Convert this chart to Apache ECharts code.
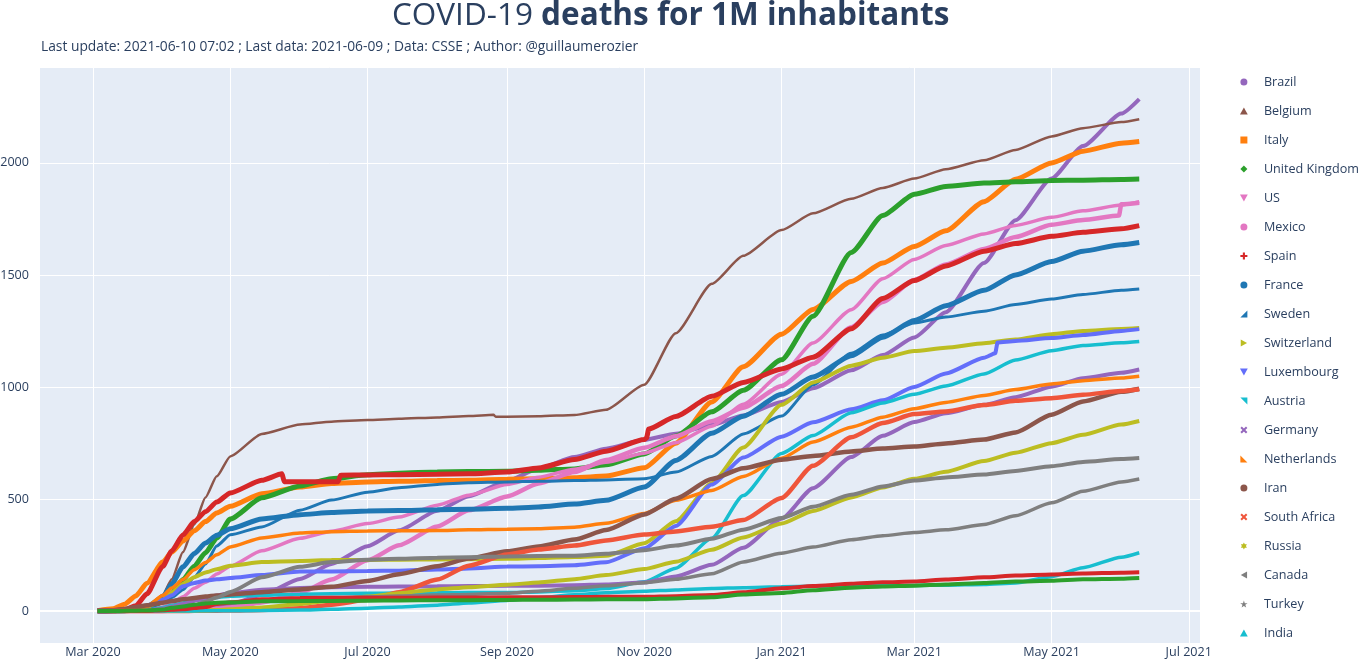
<!DOCTYPE html>
<html><head><meta charset="utf-8">
<script src="https://cdn.jsdelivr.net/npm/echarts@6/dist/echarts.min.js"></script>
<style>html,body{margin:0;padding:0;background:#fff}#chart{width:1368px;height:667px}</style>
</head><body><div id="chart"></div>
<script>
// ---------------- DATA (deaths per 1M inhabitants) ----------------
const dates = ['2020-03-03','2020-03-10','2020-03-15','2020-03-20','2020-03-25','2020-04-01','2020-04-05','2020-04-10','2020-04-15','2020-04-20','2020-04-25','2020-05-01','2020-05-15','2020-06-01','2020-06-15','2020-07-01','2020-07-15','2020-08-01','2020-08-15','2020-09-01','2020-09-15','2020-10-01','2020-10-15','2020-11-01','2020-11-15','2020-12-01','2020-12-15','2021-01-01','2021-01-15','2021-02-01','2021-02-15','2021-03-01','2021-03-15','2021-04-01','2021-04-15','2021-05-01','2021-05-15','2021-06-01','2021-06-09'];

const brazil      = [0,0,0,0,0.3,1.2,2.3,5.4,8.3,12,19,31,71,143,210,289,360,447,512,580,635,687,724,764,791,830,873,933,994,1074,1142,1221,1333,1553,1744,1930,2075,2220,2285];
const belgium     = [0,0,0.3,3,15,72,142,263,386,507,601,690,790,832,845,852,858,864,870,867,869,875,898,1010,1240,1460,1585,1700,1775,1840,1888,1930,1972,2012,2058,2118,2155,2182,2195];
const italy       = [1.3,10,30,67,124,218,263,312,358,399,437,467,523,553,569,576,579,582,583,588,590,595,602,639,749,933,1090,1235,1346,1471,1553,1627,1697,1827,1927,2000,2052,2088,2095];
const uk          = [0,0.1,0.5,2.7,7,40,80,140,200,260,325,410,505,558,590,608,615,620,622,624,628,634,653,701,781,889,985,1121,1315,1600,1765,1860,1895,1910,1916,1921,1923,1926,1928];
const us          = [0,0.1,0.2,0.8,3.2,18,33,63,101,128,165,200,269,324,356,390,419,472,517,564,597,633,664,704,751,825,923,1057,1196,1345,1483,1569,1631,1683,1721,1757,1786,1812,1827];
const mexico      = [0,0,0,0,0,0.2,0.6,1.5,3.2,5.4,9.7,15.6,38,81,140,226,293,377,449,511,569,620,674,729,780,847,907,1004,1103,1266,1379,1477,1547,1616,1669,1724,1745,1815,1822];
const spain       = [0,0.6,6,23,77,199,268,339,399,443,486,527,583,577,577,607,608,610,612,620,638,676,713,765,868,958,1020,1080,1133,1260,1395,1475,1540,1606,1640,1672,1690,1706,1720];
const france      = [0,0.5,1.4,7,20,60,121,197,256,303,338,367,411,430,439,446,448,452,454,458,464,477,494,553,672,793,869,967,1044,1139,1222,1296,1362,1431,1500,1560,1606,1635,1645];
const sweden      = [0,0,0.7,1.6,6,40,60,95,150,210,290,340,375,450,495,530,550,565,572,576,579,582,585,590,620,690,790,870,1010,1150,1232,1285,1312,1338,1368,1392,1413,1431,1437];
const switzerland = [0,0.3,1.6,6.5,18,50,83,120,151,172,186,202,218,223,227,228,229,230,231,233,236,241,246,302,400,570,730,920,1020,1095,1130,1160,1175,1195,1212,1235,1250,1259,1263];
const luxembourg  = [0,0,0,13,24,50,70,110,125,136,141,147,160,176,176,178,180,185,190,198,200,204,217,280,379,564,685,778,842,900,940,1000,1060,1130,1205,1218,1232,1250,1258];
const austria     = [0,0,0.1,0.7,3,16,25,36,46,53,60,66,70,75,77,79,80,81,82,82,85,90,100,130,191,324,515,703,783,885,928,967,1004,1058,1120,1162,1185,1197,1203];
const germany     = [0,0,0.1,0.8,2.5,11,19,31,46,58,69,80,95,103,106,108,109,110,111,112,113,115,118,127,154,206,282,412,548,687,782,843,882,920,954,1001,1039,1063,1078];
const netherlands = [0,0.2,1.2,6,21,69,103,140,184,216,251,286,326,348,354,357,358,359,362,365,367,374,391,435,494,538,600,682,754,820,865,903,931,962,988,1013,1028,1040,1048];
const iran        = [0.9,3.5,8.8,17.5,25,37,44,52,58,64,69,74,84,96,108,134,164,200,234,266,288,319,361,431,501,589,637,675,692,712,725,734,748,765,797,876,935,978,992];
const southAfrica = [0,0,0,0,0,0.1,0.1,0.2,0.4,0.9,1.3,1.8,4.4,12,28,50,84,140,202,252,274,292,315,341,355,376,406,504,648,775,839,879,890,919,938,950,965,982,990];
const russia      = [0,0,0,0,0,0.1,0.3,0.5,1.1,2.1,4,7.4,16,31,47,64,79,96,106,117,127,142,160,187,220,273,328,390,446,507,551,590,621,669,706,749,786,832,848];
const canada      = [0,0,0,0.3,0.7,2.7,6.4,13,25,41,60,85,150,197,218,229,233,238,240,243,245,247,255,271,292,322,363,415,465,519,556,582,596,609,625,646,665,678,683];
const turkey      = [0,0,0,0.1,0.9,3.4,7.3,13,18.6,26,33,40,49,56,60,63,67,71,74,79,88,101,112,126,141,166,219,258,285,318,336,350,362,386,425,483,534,576,589];
const india       = [0,0,0,0,0,0,0.1,0.2,0.3,0.5,0.7,0.9,2,3.9,7.2,12.6,17.5,26,36,47,59,72,81,88,94,100,104,108,110,112,113,114,115,118,125,153,193,240,260];
const finland     = [0,0,0,0,0.2,3.4,5,7.6,13,18,31,38,52,58,59,59,59,60,60,61,61,62,63,63,66,71,83,101,111,121,128,131,140,150,158,163,167,171,173];
const norway      = [0,0,0.6,1.3,2.4,6,14,20,28,33,37,38,43,44,45,46,47,48,48,49,50,51,52,52,56,61,73,80,93,104,109,113,118,125,131,135,141,144,147];

// extra points where a series jumps (data revisions)
const belgiumExtra    = [['2020-08-26',876],['2020-08-27',867]];
const spainExtra      = [['2020-05-24',612],['2020-05-25',577],['2020-06-18',577],['2020-06-19',606],['2020-11-02',772],['2020-11-03',812]];
const mexicoExtra     = [['2021-05-31',1765]];
const luxembourgExtra = [['2021-04-06',1150],['2021-04-07',1198]];

const monthNames = ['Jan','Feb','Mar','Apr','May','Jun','Jul','Aug','Sep','Oct','Nov','Dec'];
const titleMain = 'COVID-19 ';
const titleBold = 'deaths for 1M inhabitants';
const subtitle = 'Last update: 2021-06-10 07:02 ; Last data: 2021-06-09 ; Data: CSSE ; Author: @guillaumerozier';

// ---------------- STYLE TABLE ----------------
const IC = {
  circle: 'circle',
  triUp: 'path://M5,0L10,9L0,9Z',
  square: 'path://M0,0H10V10H0Z',
  diamond: 'path://M5,0L10,5L5,10L0,5Z',
  triDown: 'path://M0,0L10,0L5,9Z',
  cross: 'path://M3.5,0H6.5V3.5H10V6.5H6.5V10H3.5V6.5H0V3.5H3.5Z',
  triSE: 'path://M10,0L10,10L0,10Z',
  triRight: 'path://M0,0L9,5L0,10Z',
  triNE: 'path://M0,0L10,0L10,10Z',
  x: 'path://M0,2L2,0L5,3L8,0L10,2L7,5L10,8L8,10L5,7L2,10L0,8L3,5Z',
  triSW: 'path://M0,0L0,10L10,10Z',
  star6: 'path://M5,0L6.4,2.6L9.3,2.5L7.9,5L9.3,7.5L6.4,7.4L5,10L3.6,7.4L0.7,7.5L2.1,5L0.7,2.5L3.6,2.6Z',
  triLeft: 'path://M9,0L0,5L9,10Z',
  star: 'path://M5,0L6.2,3.6L10,3.6L6.9,5.9L8.1,9.5L5,7.3L1.9,9.5L3.1,5.9L0,3.6L3.8,3.6Z'
};
const specs = [
  ['Brazil', brazil, null, '#9467bd', IC.circle, 4, true],
  ['Belgium', belgium, belgiumExtra, '#8c564b', IC.triUp, 2.5, true],
  ['Italy', italy, null, '#ff7f0e', IC.square, 5, true],
  ['United Kingdom', uk, null, '#2ca02c', IC.diamond, 5, true],
  ['US', us, null, '#e377c2', IC.triDown, 3.5, true],
  ['Mexico', mexico, mexicoExtra, '#e377c2', IC.circle, 4.5, true],
  ['Spain', spain, spainExtra, '#d62728', IC.cross, 5, true],
  ['France', france, null, '#1f77b4', IC.circle, 5, true],
  ['Sweden', sweden, null, '#1f77b4', IC.triSE, 3, true],
  ['Switzerland', switzerland, null, '#bcbd22', IC.triRight, 4, true],
  ['Luxembourg', luxembourg, luxembourgExtra, '#636efa', IC.triDown, 4, true],
  ['Austria', austria, null, '#17becf', IC.triNE, 3.5, true],
  ['Germany', germany, null, '#9467bd', IC.x, 4, true],
  ['Netherlands', netherlands, null, '#ff7f0e', IC.triSW, 3.5, true],
  ['Iran', iran, null, '#8c564b', IC.circle, 4.5, true],
  ['South Africa', southAfrica, null, '#ef553b', IC.x, 4.5, true],
  ['Russia', russia, null, '#bcbd22', IC.star6, 4, true],
  ['Canada', canada, null, '#7f7f7f', IC.triLeft, 4, true],
  ['Turkey', turkey, null, '#7f7f7f', IC.star, 3.5, true],
  ['India', india, null, '#17becf', IC.triUp, 3.5, true],
  ['Finland', finland, null, '#d62728', IC.cross, 4, false],
  ['Norway', norway, null, '#2ca02c', IC.diamond, 4, false]
];

const FONT = '"Open Sans", verdana, arial, sans-serif';
const TXT = '#2a3f5f';

function buildData(vals, extra) {
  const pts = dates.map((d, i) => [d, vals[i]]);
  if (extra) extra.forEach(p => pts.push(p));
  pts.sort((a, b) => (a[0] < b[0] ? -1 : a[0] > b[0] ? 1 : 0));
  return pts;
}

const series = specs.map((s, k) => ({
  name: s[0],
  type: 'line',
  data: buildData(s[1], s[2]),
  showSymbol: false,
  symbol: 'none',
  smooth: 0.2,
  smoothMonotone: 'x',
  color: s[3],
  lineStyle: { color: s[3], width: s[5] },
  itemStyle: { color: s[3] },
  emphasis: { disabled: true },
  z: 2,
  markLine: k === 0 ? {
    silent: true, symbol: 'none', label: { show: false },
    lineStyle: { color: '#ffffff', width: 2, type: 'solid' },
    data: [{ yAxis: 0 }], z: 1
  } : undefined
}));

const legendData = specs.filter(s => s[6]).map(s => ({ name: s[0], icon: s[4] }));

const chart = echarts.init(document.getElementById('chart'), null, { renderer: 'canvas' });
chart.setOption({
  animation: false,
  backgroundColor: '#ffffff',
  textStyle: { fontFamily: FONT },
  title: {
    text: '{a|' + titleMain + '}{b|' + titleBold + '}',
    left: 392, top: 0, padding: 0,
    textStyle: {
      rich: {
        a: { fontFamily: FONT, fontSize: 31.5, color: TXT, fontWeight: 'normal', lineHeight: 32 },
        b: { fontFamily: FONT, fontSize: 31.5, color: TXT, fontWeight: 'bold', lineHeight: 32 }
      }
    }
  },
  graphic: [{
    type: 'text', left: 41, top: 40,
    style: { text: subtitle, font: '13.8px ' + FONT, fill: TXT }
  }],
  legend: {
    orient: 'vertical', left: 1235, top: 70,
    itemWidth: 30, itemHeight: 7, itemGap: 15,
    data: legendData,
    textStyle: { fontFamily: FONT, fontSize: 12.6, color: TXT, lineHeight: 14 },
    selectedMode: false
  },
  grid: {
    left: 39, right: 168, top: 67, bottom: 24,
    outerBoundsMode: 'none',
    containLabel: false,
    show: true, backgroundColor: '#E5ECF6', borderWidth: 0
  },
  xAxis: {
    type: 'time',
    min: '2020-02-06', max: '2021-07-06',
    splitNumber: 7,
    minInterval: 62 * 86400000,
    maxInterval: 88 * 86400000,
    axisLine: { show: false }, axisTick: { show: false },
    axisLabel: {
      showMinLabel: false, showMaxLabel: false,
      fontFamily: FONT, fontSize: 12.6, color: TXT, margin: 3,
      formatter: function (v) { const d = new Date(v); return monthNames[d.getMonth()] + ' ' + d.getFullYear(); }
    },
    splitLine: { show: true, lineStyle: { color: '#ffffff', width: 1 } }
  },
  yAxis: {
    type: 'value',
    min: -143, max: 2428,
    splitNumber: 5,
    axisLine: { show: false }, axisTick: { show: false },
    axisLabel: {
      showMinLabel: false, showMaxLabel: false, fontFamily: FONT, fontSize: 12.6, color: TXT, margin: 10,
      formatter: function (v) { return String(v); }
    },
    splitLine: { show: true, lineStyle: { color: '#ffffff', width: 1 } }
  },
  series: series
});
</script></body></html>
